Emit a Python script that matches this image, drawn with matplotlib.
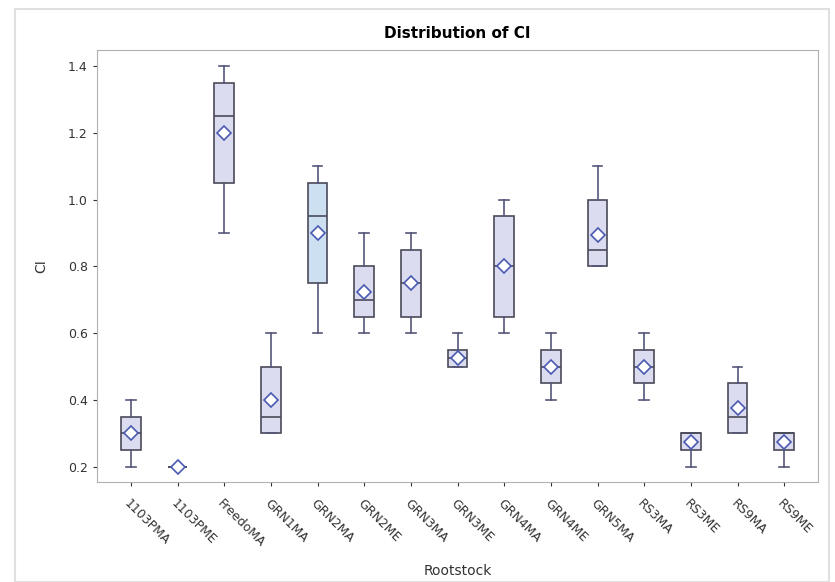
import matplotlib.pyplot as plt
from matplotlib.patches import Rectangle

# Rootstock summary statistics for CI
rootstocks = ["1103PMA", "1103PME", "FreedoMA", "GRN1MA", "GRN2MA", "GRN2ME", "GRN3MA",
              "GRN3ME", "GRN4MA", "GRN4ME", "GRN5MA", "RS3MA", "RS3ME", "RS9MA", "RS9ME"]
whisker_lo = [0.20, 0.20, 0.90, 0.30, 0.60, 0.60, 0.60, 0.50, 0.60, 0.40, 0.80, 0.40, 0.20, 0.30, 0.20]
q1 =         [0.25, 0.20, 1.05, 0.30, 0.75, 0.65, 0.65, 0.50, 0.65, 0.45, 0.80, 0.45, 0.25, 0.30, 0.25]
median =     [0.30, 0.20, 1.25, 0.35, 0.95, 0.70, 0.75, 0.525, 0.80, 0.50, 0.85, 0.50, 0.30, 0.35, 0.30]
q3 =         [0.35, 0.20, 1.35, 0.50, 1.05, 0.80, 0.85, 0.55, 0.95, 0.55, 1.00, 0.55, 0.30, 0.45, 0.30]
whisker_hi = [0.40, 0.20, 1.40, 0.60, 1.10, 0.90, 0.90, 0.60, 1.00, 0.60, 1.10, 0.60, 0.30, 0.50, 0.30]
means =      [0.30, 0.20, 1.20, 0.40, 0.90, 0.725, 0.75, 0.525, 0.80, 0.50, 0.895, 0.50, 0.275, 0.375, 0.275]

stats = []
for i, name in enumerate(rootstocks):
    stats.append({"label": name, "whislo": whisker_lo[i], "q1": q1[i], "med": median[i],
                  "q3": q3[i], "whishi": whisker_hi[i], "mean": means[i], "fliers": []})

fig = plt.figure(figsize=(8.35, 5.82), dpi=100)
ax = fig.add_axes([0.116, 0.172, 0.864, 0.742])

edge = "#4a4a5a"
bp = ax.bxp(stats, positions=range(len(rootstocks)), widths=0.42, patch_artist=True,
            showmeans=True, showfliers=False,
            boxprops=dict(facecolor="#dcdcf0", edgecolor=edge, linewidth=1.2),
            medianprops=dict(color=edge, linewidth=1.2),
            whiskerprops=dict(color="#55557a", linewidth=1.2),
            capprops=dict(color="#55557a", linewidth=1.2),
            meanprops=dict(marker="D", markerfacecolor="white", markeredgecolor="#4a5ab0",
                           markersize=7, markeredgewidth=1.2))
bp["boxes"][4].set_facecolor("#cde0f2")

ax.set_xlim(-0.73, len(rootstocks) - 0.27)
ax.set_ylim(0.155, 1.448)
ax.set_yticks([0.2, 0.4, 0.6, 0.8, 1.0, 1.2, 1.4])
ax.set_yticklabels(["0.2", "0.4", "0.6", "0.8", "1.0", "1.2", "1.4"])
ax.set_xticks(range(len(rootstocks)))
ax.set_xticklabels(rootstocks, rotation=-45, ha="left", va="top", rotation_mode="anchor")
ax.tick_params(axis="both", labelsize=9, colors="#333333", length=3)
ax.tick_params(axis="x", pad=8)
for side in ax.spines.values():
    side.set_color("#b0b0b0")

ax.set_title("Distribution of CI", fontsize=11, fontweight="bold", pad=9)
ax.set_xlabel("Rootstock", fontsize=10, color="#333333", labelpad=10)
ax.set_ylabel("CI", fontsize=10, color="#333333", labelpad=14)

# faint outer border
fig.patches.append(Rectangle((0.018, 0.0), 0.975, 0.985, transform=fig.transFigure,
                             fill=False, edgecolor="#e0e0e0", linewidth=1.5))

fig.savefig("out.png", dpi=100)
